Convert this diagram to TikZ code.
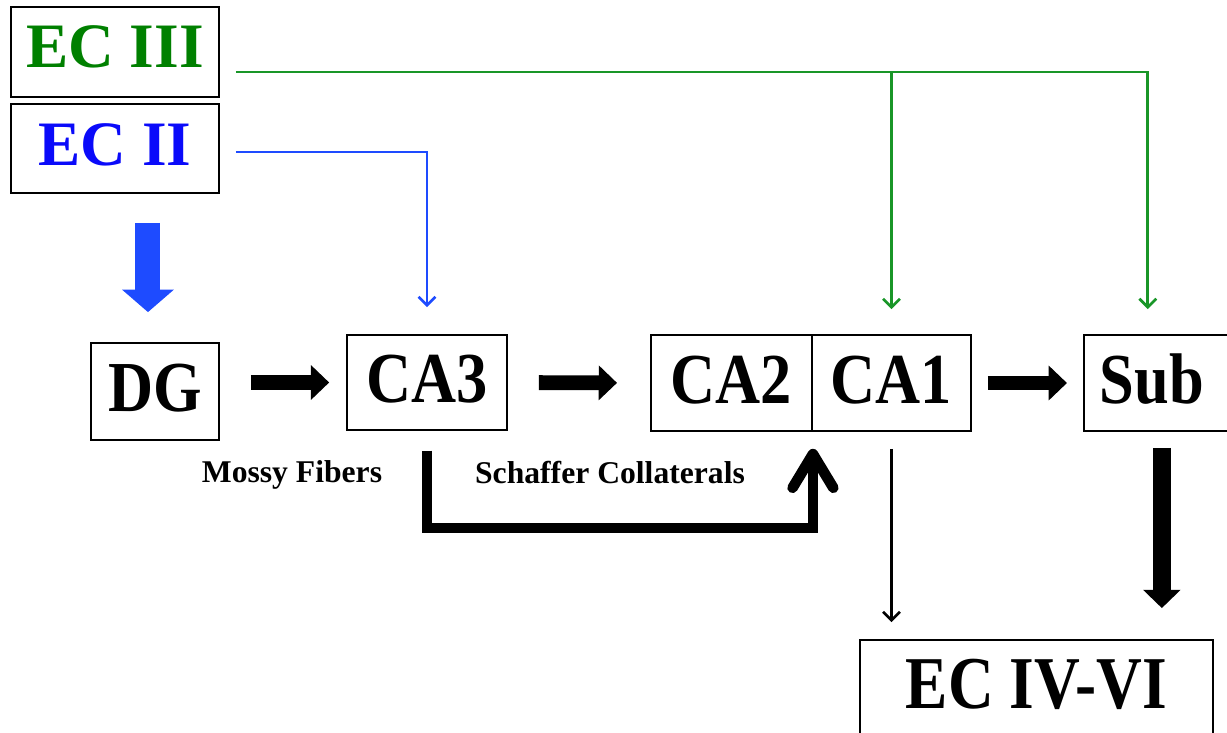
\documentclass[tikz,border=0pt]{standalone}
\usepackage{fontspec}
\setmainfont{Liberation Serif}
\newfontfamily\narrowserif[FakeStretch=0.87]{Liberation Serif}
\newfontfamily\narrowerserif[FakeStretch=0.85]{Liberation Serif}
\usetikzlibrary{arrows.meta,calc}
\definecolor{ecgreen}{RGB}{0,128,0}
\definecolor{ecblue}{RGB}{10,10,250}
\definecolor{linegreen}{RGB}{25,150,40}
\definecolor{lineblue}{RGB}{30,75,255}

\begin{document}
\begin{tikzpicture}[x=0.025cm, y=-0.025cm,
  box/.style={draw, line width=1.3pt, inner sep=0pt},
  ecbox/.style={box, minimum width=5.2cm, font=\fontsize{45}{50}\selectfont\bfseries, text height=30.5pt},
  region/.style={box, minimum height=2.4cm, font=\narrowserif\fontsize{51}{56}\selectfont\bfseries, text height=34.5pt, text depth=6pt},
  tag/.style={font=\fontsize{22.5}{26}\selectfont\bfseries},
  slim/.style={line width=1.9pt, -{Straight Barb[length=6pt,width=12pt]}},
  fat/.style={line width=10.5pt, -{Triangle[length=13pt,width=24pt]}}]
\clip (0,0) rectangle (1227,732);
\node[ecbox, minimum height=2.25cm, text depth=8pt, text=ecgreen] (ec3) at (115,52) {EC III};
\node[ecbox, minimum height=2.225cm, text depth=7pt, text=ecblue] (ec2) at (115,148.5) {EC II};
\node[region, minimum width=3.2cm, minimum height=2.425cm] (dg) at (155,391.5) {DG};
\node[region, minimum width=4cm, minimum height=2.375cm] (ca3) at (427,382.5) {CA3};
\node[region, minimum width=4.025cm] (ca2) at (731.5,383) {CA2};
\node[region, minimum width=3.975cm] (ca1) at (891.5,383) {CA1};
\node[box, minimum width=4.2cm, minimum height=2.4cm, anchor=west] (subbox) at (1083,383) {};
\node[region, draw=none] (sub) at (1152,383) {Sub};
\node[box, anchor=north, minimum width=8.825cm, inner ysep=12.8pt, font=\narrowerserif\fontsize{53}{58}\selectfont\bfseries, text height=36pt, text depth=12pt] (ec46) at (1036.5,639) {EC IV-VI};
\node[tag] (mossy) at (292,475) {Mossy Fibers};
\node[tag] (schaffer) at (610,473) {Schaffer Collaterals};

\coordinate (g0) at ([xshift=0.4cm,yshift=-0.5cm]ec3.east);
\draw[slim, linegreen, shorten >=17.8pt] (g0) -| ([xshift=-3pt]sub |- subbox.north);
\draw[slim, linegreen, shorten >=17.8pt] (g0 -| ca1.north) -- (ca1.north);
\draw[slim, lineblue, shorten <=11.4pt, shorten >=19.2pt] ([yshift=-2.5pt]ec2.east) -| (ca3.north);
\draw[lineblue, line width=17.8pt, -{Triangle[length=16pt,width=36pt]}, shorten <=20.6pt, shorten >=21.3pt] ([xshift=-5pt]ec2.south -| dg.north) -- ([xshift=-5pt]dg.north);

\draw[fat, shorten <=22pt, shorten >=12pt] (dg.east |- ca3.west) -- (ca3.west);
\draw[fat, shorten <=22pt, shorten >=23.5pt] (ca3.east) -- (ca2.west);
\draw[fat, shorten <=11.4pt, shorten >=11.4pt] (ca1.east) -- (subbox.west);
\draw[fat, line width=13pt, -{Triangle[length=13pt,width=26pt]}, shorten <=11.4pt, shorten >=22pt] ([xshift=7pt]sub |- subbox.south) -- ([xshift=7pt]sub |- ec46.north);
\draw[slim, shorten <=12pt, shorten >=12pt] (ca1.south) -- (ca1.south |- ec46.north);
\draw[line width=7.5pt, -{Straight Barb[length=24pt,width=29pt,round]}, shorten <=14pt, shorten >=12pt] (ca3.south) -- ++(0,97) -| (ca2.south east);
\end{tikzpicture}
\end{document}
